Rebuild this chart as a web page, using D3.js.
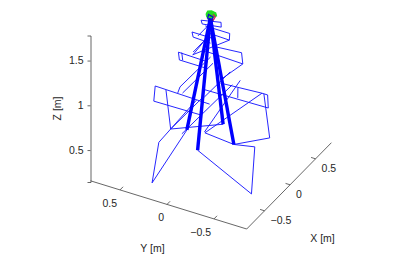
<!DOCTYPE html>
<html>
<head>
<meta charset="utf-8">
<script src="https://cdn.jsdelivr.net/npm/d3@7"></script>
<style>
  html, body { margin: 0; padding: 0; background: #fff; }
  svg text { font-family: "Liberation Sans", Arial, sans-serif; font-size: 10.5px; fill: #262626; }
</style>
</head>
<body>
<div id="chart"></div>
<script>
// axis ticks
const xTicks = [-0.5, 0, 0.5];
const yTicks = [-0.5, 0, 0.5];
const zTicks = [0.5, 1, 1.5];

// tower, every point is [x, y, z] in metres
const apex = [0, 0, 1.73];
const feet = [[-0.25, 0, 0.4], [0, -0.25, 0.4], [0.25, 0, 0.4], [0, 0.25, 0.4]];

// lower panels hanging from the feet
const lowerPanels = [
  [[-0.25, 0, 0.4], [-0.65, -0.79, 0.4], [0.06, -0.44, 0.4], [0, -0.25, 0.4]],
  [[0, 0.25, 0.4], [-0.94, 0.11, 0.4], [-0.31, 0.38, 0.4], [-0.07, 0.11, 0.82]],
  [[0.25, 0, 0.4], [-0.06, 0.39, 0.4], [-0.06, 0.44, 0.82]],
  [[-0.06, 0.39, 0.4], [0, 0.08, 0.82]],
  [[0, -0.25, 0.4], [0.04, 0.08, 0.4], [0.33, -0.37, 0.82]],
  [[0, -0.25, 0.4], [0.26, -0.49, 0.4], [0.33, -0.39, 0.82]],
  [[0.05, 0.09, 0.4], [0.42, -0.09, 0.82]],
  [[-0.08, 0.26, 0.4], [0.32, -0.06, 0.82]]
];

// horizontal frames, bottom to top
const frameBottom = [
  [[-0.07, -0.03, 0.82], [-0.05, 0.56, 0.82], [-0.28, 0.45, 0.82], [-0.27, -0.04, 0.82]],
  [[0.12, 0.15, 0.82], [0.14, -0.54, 0.82], [0.33, -0.43, 0.82], [0.33, -0.37, 0.82], [0.29, 0.05, 0.82]],
  [[0.3, -0.13, 0.82], [0.15, -0.21, 0.82]],
  [[-0.05, 0.32, 0.82], [0.05, 0.35, 0.82], [0.63, 0.34, 0.82]],
  [[-0.03, 0.28, 0.82], [0.55, 0.27, 0.82]],
  [[0.5, 0.06, 0.82], [0.01, 0.07, 0.82]]
];
const frameMiddle = [
  [[-0.01, 0.02, 1.24], [0, 0.34, 1.24], [-0.11, 0.27, 1.24], [-0.11, 0, 1.24]],
  [[0.01, 0.31, 1.24], [-0.1, 0.24, 1.24]],
  [[0.14, 0.16, 1.24], [0.12, -0.28, 1.24], [0.28, -0.18, 1.24], [0.25, 0.07, 1.24]],
  [[0.02, 0.2, 1.24], [0.3, 0.22, 1.24]],
  [[0.12, -0.28, 1.24], [-0.18, -0.23, 1.24]]
];
const frameUpper = [
  [[-0.01, -0.02, 1.52], [-0.01, 0.19, 1.52], [-0.08, 0.14, 1.52], [-0.09, -0.05, 1.52]],
  [[0.05, 0.05, 1.52], [0.04, -0.18, 1.52], [0.14, -0.13, 1.52], [0.14, 0.13, 1.52]],
  [[0.04, -0.18, 1.52], [-0.34, 0, 1.52]],
  [[-0.3, 0.02, 1.52], [0.03, 0.02, 1.52]],
  [[-0.04, 0.11, 1.52], [0.27, 0.11, 1.52]]
];
const frameTop = [
  [[0.08, -0.07, 1.66], [0.02, 0.11, 1.66], [-0.03, 0.07, 1.66], [0.01, -0.11, 1.66], [0.08, -0.07, 1.66]]
];

// head on top of the tower
const headGreen = [[-0.01, 0.04, 1.77], [0.04, 0.05, 1.77], [0.06, 0.02, 1.77], [0.05, -0.03, 1.77],
  [0.01, -0.06, 1.77], [-0.04, -0.04, 1.77], [-0.05, 0.01, 1.77], [-0.01, 0.04, 1.77]];
const headBlue = [[-0.02, 0.02, 1.73], [0.02, 0.03, 1.75], [0.03, -0.01, 1.73], [-0.01, -0.03, 1.72], [-0.02, 0.02, 1.73]];
const headRed = [[0.07, 0.01, 1.73], [0.04, -0.03, 1.73], [-0.02, -0.04, 1.73]];

const width = 405, height = 268;
const svg = d3.select('#chart').append('svg')
  .attr('width', width)
  .attr('height', height)
  .style('display', 'block');

// oblique view: each data axis moves the point along its own screen direction
const xToLeft = d3.scaleLinear().domain([-0.85, 0.81]).range([0, 84.7]);
const xToTop = d3.scaleLinear().domain([-0.85, 0.81]).range([0, -86.3]);
const yToLeft = d3.scaleLinear().domain([-0.848, 0.814]).range([246.7, 90.5]);
const yToTop = d3.scaleLinear().domain([-0.848, 0.814]).range([229, 180.8]);
const zScale = d3.scaleLinear().domain([0.143, 1.78]).range([182, 35.5]);

const px = d => xToLeft(d[0]) + yToLeft(d[1]);
const py = d => xToTop(d[0]) + yToTop(d[1]) + zScale(d[2]) - zScale(0.143);
const line = d3.line().x(px).y(py);

const axisColor = '#404040';

// thin blue wire frames
const wires = [].concat(lowerPanels, frameBottom, frameMiddle, frameUpper, frameTop);
svg.append('g').selectAll('path')
  .data(wires)
  .join('path')
  .attr('d', line)
  .attr('fill', 'none')
  .attr('stroke', '#1a1aff')
  .attr('stroke-width', 0.95);

// legs
svg.append('g').selectAll('path')
  .data(feet.map(f => [f, apex]))
  .join('path')
  .attr('d', line)
  .attr('fill', 'none')
  .attr('stroke', '#0000ff')
  .attr('stroke-width', 3.4);

// head
svg.append('path').datum(headGreen).attr('d', line)
  .attr('fill', '#22dd22').attr('stroke', '#22dd22').attr('stroke-width', 1.2);
svg.append('path').datum(headBlue).attr('d', line)
  .attr('fill', 'none').attr('stroke', '#1010c0').attr('stroke-width', 1.4);
svg.append('path').datum(headRed).attr('d', line)
  .attr('fill', 'none').attr('stroke', '#e01060').attr('stroke-width', 1.2);

// z axis
const zAxis = d3.axisLeft(zScale)
  .tickValues(zTicks)
  .tickSize(3)
  .tickPadding(4)
  .tickFormat(d3.format('~g'));
const zG = svg.append('g')
  .attr('transform', 'translate(90.5, 0)')
  .call(zAxis);
zG.selectAll('.domain, .tick line').attr('stroke', axisColor).attr('stroke-width', 0.8);
zG.selectAll('text').attr('fill', '#262626').style('font-size', '10.5px');

// floor axes
const yEdge = [[-0.85, -0.848, 0.143], [-0.85, 0.814, 0.143]];
const xEdge = [[-0.85, -0.848, 0.143], [0.81, -0.848, 0.143]];
svg.append('path').datum(yEdge).attr('d', line).attr('fill', 'none').attr('stroke', axisColor).attr('stroke-width', 0.8);
svg.append('path').datum(xEdge).attr('d', line).attr('fill', 'none').attr('stroke', axisColor).attr('stroke-width', 0.8);

const fmt = d => d3.format('~g')(d).replace('-', '\u2212');

yTicks.forEach(t => {
  const base = [-0.85, t, 0.143];
  svg.append('path').datum([base, [-0.79, t, 0.143]]).attr('d', line)
    .attr('stroke', axisColor).attr('stroke-width', 0.8);
  svg.append('text')
    .attr('x', px(base) - 3)
    .attr('y', py(base) + 17)
    .attr('text-anchor', 'end')
    .text(fmt(t));
});

xTicks.forEach(t => {
  const base = [t, -0.848, 0.143];
  svg.append('path').datum([base, [t, -0.8, 0.143]]).attr('d', line)
    .attr('stroke', axisColor).attr('stroke-width', 0.8);
  svg.append('text')
    .attr('x', px(base) + 6)
    .attr('y', py(base) + 13)
    .attr('text-anchor', 'start')
    .text(fmt(t));
});

// axis titles
svg.append('text').attr('x', 152.5).attr('y', 251.7).attr('text-anchor', 'middle').text('Y [m]');
svg.append('text').attr('x', 322.5).attr('y', 241.7).attr('text-anchor', 'middle').text('X [m]');
svg.append('text')
  .attr('transform', 'translate(61, 108.5) rotate(-90)')
  .attr('text-anchor', 'middle')
  .text('Z [m]');
</script>
</body>
</html>
